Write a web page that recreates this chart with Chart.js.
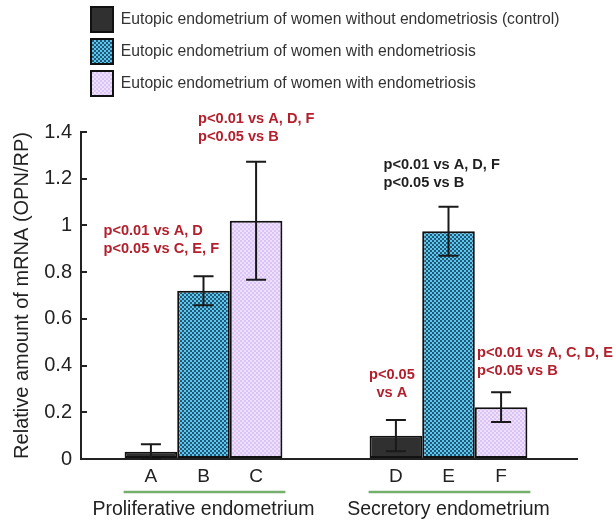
<!DOCTYPE html>
<html>
<head>
<meta charset="utf-8">
<script src="https://cdn.jsdelivr.net/npm/chart.js@4.4.1/dist/chart.umd.min.js"></script>
<style>
  html, body { margin: 0; padding: 0; background: #fff; }
  #wrap { width: 613px; height: 524px; }
</style>
</head>
<body>
<div id="wrap"><canvas id="grafico"></canvas></div>
<script>
// data
var groups = ['Proliferative endometrium', 'Secretory endometrium'];
var seriesNames = [
    'Eutopic endometrium of women without endometriosis (control)',
    'Eutopic endometrium of women with endometriosis',
    'Eutopic endometrium of women with endometriosis'
];
var control = [0.031, 0.10];
var controlErr = [0.032, 0.067];
var withEndoBlue = [0.72, 0.975];
var withEndoBlueErr = [0.062, 0.105];
var withEndoPurple = [1.02, 0.222];
var withEndoPurpleErr = [0.253, 0.064];
var barLetters = [['A', 'D'], ['B', 'E'], ['C', 'F']];
var yTickLabels = ['0', '0.2', '0.4', '0.6', '0.8', '1', '1.2', '1.4'];
var notes = [
    { bar: 'B', lines: ['p<0.01 vs A, D', 'p<0.05 vs C, E, F'], red: true },
    { bar: 'C', lines: ['p<0.01 vs A, D, F', 'p<0.05 vs B'], red: true },
    { bar: 'D', lines: ['p<0.05', 'vs A'], red: true },
    { bar: 'E', lines: ['p<0.01 vs A, D, F', 'p<0.05 vs B'], red: false },
    { bar: 'F', lines: ['p<0.01 vs A, C, D, E', 'p<0.05 vs B'], red: true }
];

// where each note sits, relative to the top of its error bar
var notePlace = {
    B: { dx: -100, dy: -27, align: 'left' },
    C: { dx: -58, dy: -25, align: 'left' },
    D: { dx: -4, dy: -27, align: 'center' },
    E: { dx: -65, dy: -24, align: 'left' },
    F: { dx: -24, dy: -21, align: 'left' }
};

var FONT = "'Liberation Sans', Arial, sans-serif";
var ctx = document.querySelector('#grafico').getContext('2d');

function checker(bg, fg, size) {
    var c = document.createElement('canvas');
    c.width = c.height = size * 2;
    var g = c.getContext('2d');
    g.fillStyle = bg;
    g.fillRect(0, 0, size * 2, size * 2);
    g.fillStyle = fg;
    g.fillRect(0, 0, size, size);
    g.fillRect(size, size, size, size);
    return ctx.createPattern(c, 'repeat');
}

var blueFill = checker('#56c9f3', '#285571', 2);
var purpleFill = checker('#efe0fe', '#dac3f5', 2);
var errs = [controlErr, withEndoBlueErr, withEndoPurpleErr];

var extras = {
    id: 'extras',
    beforeInit: function (chart) {
        var legend = chart.legend;
        var fit = legend.fit;
        legend.fit = function () {
            fit.call(this);
            this.height = 132;
        };
    },
    afterLayout: function (chart) {
        chart.legend.left = 84;
    },
    afterDatasetsDraw: function (chart) {
        var c = chart.ctx;
        var y = chart.scales.y;
        var x = chart.scales.x;
        var area = chart.chartArea;
        c.save();

        // x axis runs a little past the last group
        c.strokeStyle = '#222';
        c.lineWidth = 2;
        c.beginPath();
        c.moveTo(area.right, area.bottom);
        c.lineTo(area.right + 7, area.bottom);
        c.stroke();

        // error bars
        chart.data.datasets.forEach(function (ds, d) {
            chart.getDatasetMeta(d).data.forEach(function (bar, i) {
                var v = ds.data[i], e = errs[d][i];
                var top = y.getPixelForValue(v + e);
                var bot = y.getPixelForValue(Math.max(v - e, 0));
                c.strokeStyle = '#1a1a1a';
                c.lineWidth = 2;
                c.beginPath();
                c.moveTo(bar.x, top); c.lineTo(bar.x, bot);
                c.moveTo(bar.x - 10, top); c.lineTo(bar.x + 10, top);
                c.moveTo(bar.x - 10, bot); c.lineTo(bar.x + 10, bot);
                c.stroke();
            });
        });

        // bar letters
        c.fillStyle = '#222';
        c.font = '19px ' + FONT;
        c.textAlign = 'center';
        c.textBaseline = 'middle';
        chart.data.datasets.forEach(function (ds, d) {
            chart.getDatasetMeta(d).data.forEach(function (bar, i) {
                c.fillText(barLetters[d][i], bar.x, x.top + 18);
            });
        });

        // green brackets under each group
        var n = chart.data.datasets.length;
        c.strokeStyle = '#74b06c';
        c.lineWidth = 2.5;
        groups.forEach(function (g, i) {
            var first = chart.getDatasetMeta(0).data[i];
            var last = chart.getDatasetMeta(n - 1).data[i];
            c.beginPath();
            c.moveTo(first.x - first.width / 2 - 1, x.top + 33);
            c.lineTo(last.x + last.width / 2 + 3, x.top + 33);
            c.stroke();
        });

        // significance notes
        c.font = 'bold 14.6px ' + FONT;
        notes.forEach(function (note) {
            var d, i;
            barLetters.forEach(function (row, dd) {
                var k = row.indexOf(note.bar);
                if (k >= 0) { d = dd; i = k; }
            });
            var bar = chart.getDatasetMeta(d).data[i];
            var v = chart.data.datasets[d].data[i];
            var top = y.getPixelForValue(v + errs[d][i]);
            var p = notePlace[note.bar];
            c.fillStyle = note.red ? '#b3202d' : '#1e1e1e';
            c.textAlign = p.align;
            var last = note.lines.length - 1;
            note.lines.forEach(function (line, k) {
                c.fillText(line, bar.x + p.dx, top + p.dy - (last - k) * 18);
            });
        });
        c.restore();
    }
};

var data = {
    labels: groups,
    datasets: [{
        label: seriesNames[0],
        data: control,
        backgroundColor: '#303030',
        borderColor: '#111',
        borderWidth: 2,
        borderSkipped: false
    },
    {
        label: seriesNames[1],
        data: withEndoBlue,
        backgroundColor: blueFill,
        borderColor: '#111',
        borderWidth: 2,
        borderSkipped: false
    },
    {
        label: seriesNames[2],
        data: withEndoPurple,
        backgroundColor: purpleFill,
        borderColor: '#111',
        borderWidth: 2,
        borderSkipped: false
    }]
};

var options = {
    responsive: true,
    maintainAspectRatio: false,
    animation: false,
    layout: { padding: { left: 0, right: 42, top: 0, bottom: 0 } },
    categoryPercentage: 0.644,
    barPercentage: 1,
    plugins: {
        legend: {
            position: 'top',
            align: 'start',
            labels: {
                boxWidth: 22,
                boxHeight: 25,
                padding: 7,
                color: '#333',
                font: { family: FONT, size: 15.7 }
            }
        },
        tooltip: { enabled: false }
    },
    scales: {
        x: {
            grid: { display: false, drawTicks: false },
            border: { display: true, color: '#222', width: 2 },
            ticks: {
                padding: 39,
                color: '#222',
                font: { family: FONT, size: 19.5 }
            },
            afterFit: function (s) { s.height = 65; }
        },
        y: {
            min: 0,
            max: 1.4,
            grid: { drawOnChartArea: false, drawTicks: true, tickLength: -6, color: '#222', lineWidth: 2 },
            border: { display: true, color: '#222', width: 2 },
            ticks: {
                stepSize: 0.2,
                padding: 15,
                color: '#222',
                font: { family: FONT, size: 20 },
                callback: function (v, i) { return yTickLabels[i]; }
            },
            title: {
                display: true,
                text: 'Relative amount of mRNA (OPN/RP)',
                color: '#222',
                font: { family: FONT, size: 20 },
                padding: { top: 10, bottom: 0 }
            },
            afterFit: function (s) { s.width = 81; }
        }
    }
};

var barChart = new Chart(ctx, {
    type: 'bar',
    data: data,
    options: options,
    plugins: [extras]
});
</script>
</body>
</html>
